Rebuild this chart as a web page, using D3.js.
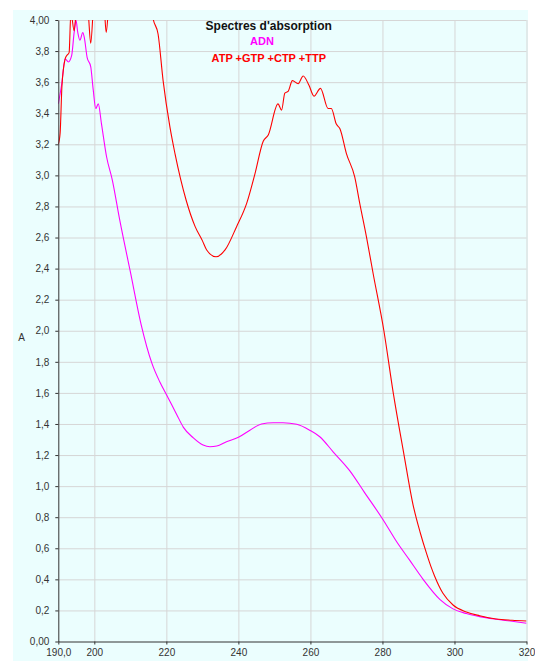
<!DOCTYPE html>
<meta charset="utf-8">
<style>
    body { margin: 0; background: #fff; }
    svg text { font-family: "Liberation Sans", Arial, sans-serif; }
    .grid line { stroke: #d6d6d6; stroke-width: 1; }
    .grid path { display: none; }
    .axis text { font-size: 10px; fill: #333; }
    .axis path, .axis line { stroke: #333; }
</style>
<svg width="535" height="661"></svg>
<script src="https://cdn.jsdelivr.net/npm/d3@7/dist/d3.min.js"></script>
<script>

    // tick labels
    var xTickValues = [190, 200, 220, 240, 260, 280, 300, 320];
    var xTickLabels = ["190,0", "200", "220", "240", "260", "280", "300", "320"];
    var yTickValues = [0, 0.2, 0.4, 0.6, 0.8, 1.0, 1.2, 1.4, 1.6, 1.8, 2.0, 2.2, 2.4, 2.6, 2.8, 3.0, 3.2, 3.4, 3.6, 3.8, 4.0];
    var yTickLabels = ["0,00", "0,2", "0,4", "0,6", "0,8", "1,0", "1,2", "1,4", "1,6", "1,8", "2,0", "2,2", "2,4", "2,6", "2,8", "3,0", "3,2", "3,4", "3,6", "3,8", "4,00"];

    // ADN spectrum (magenta)
    var adnWl = [190, 190.9, 191.9, 192.8, 193.7, 194.4, 194.9, 195.4, 196.0, 196.8, 197.2, 198.0, 199.0, 199.7, 200.4, 201.1, 202.0, 203.4,
        205, 207, 210, 213, 216, 218.2, 220, 222.9, 224.7, 227.5, 230.2, 232.1, 234, 236.7, 240, 243.2, 246.4, 249.7, 252.4, 256.2,
        259.8, 262.6, 266.3, 270.9, 275, 280, 284, 287.5, 291.3, 296, 299.6, 303.3, 307, 311.6, 316, 320];
    var adnAbs = [3.46, 3.58, 3.75, 3.73, 3.77, 3.92, 4.0, 3.92, 3.87, 3.92, 3.89, 3.76, 3.70, 3.55, 3.43, 3.46, 3.33, 3.12,
        2.97, 2.72, 2.38, 2.04, 1.79, 1.67, 1.59, 1.46, 1.38, 1.31, 1.264, 1.253, 1.258, 1.286, 1.314, 1.36, 1.40, 1.408, 1.408, 1.398,
        1.36, 1.318, 1.221, 1.10, 0.96, 0.79, 0.64, 0.525, 0.40, 0.27, 0.21, 0.18, 0.16, 0.143, 0.13, 0.117];

    // ATP +GTP +CTP +TTP spectrum (red)
    var ntpWl = [190, 190.5, 191, 191.9, 192.3, 193, 193.5, 194.4, 195.2, 196.5, 197.5, 198.3, 199, 199.8, 201, 202.7, 203.3, 204,
        206, 210, 214, 216.4, 217.7, 219.1, 221, 222.4, 225.5, 228, 230, 231.2, 233.8, 236.3, 239.5, 242.3, 244.6, 246.9, 248.3,
        251, 252, 252.9, 253.8, 255, 256.6, 258, 259.6, 261, 262.8, 264.9, 265.8, 267.2, 268.2, 270, 272.3, 273.7, 275.6, 277.4,
        280.4, 283, 286, 288.5, 290.5, 292.2, 293.5, 294.5, 296.8, 299.6, 303.3, 307, 311.6, 316, 320];
    var ntpAbs = [3.20, 3.27, 3.57, 3.75, 3.77, 3.79, 4.05, 3.93, 4.1, 4.05, 4.15, 4.05, 3.85, 4.1, 4.25, 4.1, 3.92, 4.1,
        4.5, 4.8, 4.4, 4.0, 3.91, 3.61, 3.31, 3.14, 2.84, 2.67, 2.58, 2.52, 2.476, 2.52, 2.67, 2.82, 3.01, 3.22, 3.26,
        3.46, 3.42, 3.53, 3.54, 3.61, 3.59, 3.64, 3.58, 3.51, 3.56, 3.43, 3.43, 3.33, 3.30, 3.14, 2.99, 2.82, 2.60, 2.37,
        2.0, 1.6, 1.2, 0.88, 0.70, 0.57, 0.48, 0.42, 0.31, 0.235, 0.19, 0.166, 0.145, 0.137, 0.132];

    var svg = d3.select("svg");

    var plotLeft = 58.3, plotRight = 526.5, plotTop = 20, plotBottom = 641.5;

    var x = d3.scaleLinear().domain([190, 320]).range([plotLeft, plotRight]);
    var y = d3.scaleLinear().domain([0, 4]).range([plotBottom, plotTop]);

    // pale cyan panel
    svg.append("rect")
        .attr("x", 13).attr("y", 10)
        .attr("width", 515).attr("height", 651)
        .attr("fill", "#ebfefe");

    // grid
    svg.append("g")
        .attr("class", "grid")
        .attr("transform", "translate(" + plotLeft + ",0)")
        .call(d3.axisLeft(y)
            .tickValues(yTickValues.filter(function(d) { return d > 0; }))
            .tickSize(-(plotRight - plotLeft))
            .tickFormat(""));

    svg.append("g")
        .attr("class", "grid")
        .attr("transform", "translate(0," + plotBottom + ")")
        .call(d3.axisBottom(x)
            .tickValues(xTickValues.filter(function(d) { return d > 190; }))
            .tickSize(-(plotBottom - plotTop))
            .tickFormat(""));

    // curves, clipped at 4,00
    svg.append("clipPath")
        .attr("id", "plot-clip")
        .append("rect")
        .attr("x", plotLeft).attr("y", plotTop)
        .attr("width", plotRight - plotLeft).attr("height", plotBottom - plotTop);

    var line = d3.line()
        .curve(d3.curveMonotoneX)
        .x(function(d) { return x(d[0]); })
        .y(function(d) { return y(d[1]); });

    var curves = svg.append("g").attr("clip-path", "url(#plot-clip)");

    curves.append("path")
        .datum(adnWl.map(function(w, i) { return [w, adnAbs[i]]; }))
        .attr("fill", "none")
        .attr("stroke", "#ff00ff")
        .attr("stroke-width", 1.1)
        .attr("d", line);

    curves.append("path")
        .datum(ntpWl.map(function(w, i) { return [w, ntpAbs[i]]; }))
        .attr("fill", "none")
        .attr("stroke", "#ff0000")
        .attr("stroke-width", 1.1)
        .attr("d", line);

    // axes
    svg.append("g")
        .attr("class", "axis")
        .attr("transform", "translate(" + plotLeft + ",0)")
        .call(d3.axisLeft(y)
            .tickValues(yTickValues)
            .tickSize(3)
            .tickSizeOuter(0)
            .tickPadding(6)
            .tickFormat(function(d, i) { return yTickLabels[i]; }));

    svg.append("g")
        .attr("class", "axis")
        .attr("transform", "translate(0," + plotBottom + ")")
        .call(d3.axisBottom(x)
            .tickValues(xTickValues)
            .tickSize(3)
            .tickSizeOuter(0)
            .tickPadding(4.5)
            .tickFormat(function(d, i) { return xTickLabels[i]; }));

    svg.append("text")
        .attr("x", 21.5).attr("y", 341)
        .attr("text-anchor", "middle")
        .attr("font-size", "10px")
        .attr("fill", "#333")
        .text("A");

    // titles
    svg.append("text")
        .attr("x", 268.7).attr("y", 30)
        .attr("text-anchor", "middle")
        .attr("font-size", "12px")
        .attr("font-weight", "bold")
        .attr("fill", "#111")
        .text("Spectres d'absorption");

    svg.append("text")
        .attr("x", 262).attr("y", 45)
        .attr("text-anchor", "middle")
        .attr("font-size", "11px")
        .attr("font-weight", "bold")
        .attr("fill", "#ff00ff")
        .text("ADN");

    svg.append("text")
        .attr("x", 268.8).attr("y", 62)
        .attr("text-anchor", "middle")
        .attr("font-size", "11px")
        .attr("font-weight", "bold")
        .attr("fill", "#ff0000")
        .text("ATP +GTP +CTP +TTP");

</script>
